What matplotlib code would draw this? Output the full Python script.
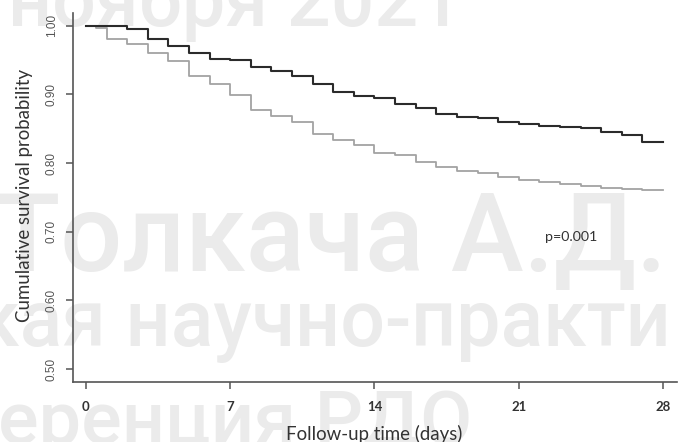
import matplotlib
matplotlib.use("Agg")
import matplotlib.pyplot as plt

# ---- data ----
days_black = [0, 1, 2, 3, 4, 5, 6, 7, 8, 9, 10, 11, 12, 13, 14, 15, 16, 17, 18, 19, 20,
              21, 22, 23, 24, 25, 26, 27, 28]
surv_black = [1.000, 0.999, 0.995, 0.980, 0.970, 0.960, 0.952, 0.950, 0.940, 0.934, 0.927,
              0.915, 0.904, 0.897, 0.894, 0.886, 0.880, 0.872, 0.867, 0.865, 0.860,
              0.857, 0.854, 0.853, 0.851, 0.845, 0.841, 0.831, 0.831]

days_gray = [0, 0.5, 1, 2, 3, 4, 5, 6, 7, 8, 9, 10, 11, 12, 13, 14, 15, 16, 17, 18, 19, 20,
             21, 22, 23, 24, 25, 26, 27, 28]
surv_gray = [1.000, 0.996, 0.980, 0.974, 0.960, 0.948, 0.927, 0.915, 0.899, 0.877, 0.869,
             0.860, 0.842, 0.834, 0.826, 0.815, 0.811, 0.801, 0.794, 0.789, 0.785, 0.779,
             0.775, 0.772, 0.770, 0.767, 0.764, 0.762, 0.761, 0.761]

x_ticks = [0, 7, 14, 21, 28]
y_ticks = [0.50, 0.60, 0.70, 0.80, 0.90, 1.00]
y_ticklabels = ["0.50", "0.60", "0.70", "0.80", "0.90", "1.00"]
p_text = "p=0.001"
x_label = "Follow-up time (days)"
y_label = "Cumulative survival probability"

# watermark lines (background text of the source image)
wm_texts = ["ноября 2021", "Толкача А.Д.", "кая научно-практи", "еренция РДО"]

# layout (pixels): left edge, right edge, baseline
wm_layout = [(8, 463, 26), (-6, 668, 271), (-24, 672, 346), (-2, 472, 444)]

W, H = 678, 442
fig = plt.figure(figsize=(W / 100, H / 100), dpi=100)
fig.patch.set_facecolor("white")
renderer = fig.canvas.get_renderer()

for txt, (x0, x1, yb) in zip(wm_texts, wm_layout):
    t = fig.text(x0 / W, 1 - yb / H, txt, fontsize=50, color="#ebebeb",
                 family="Roboto", fontweight=500, ha="left", va="baseline",
                 zorder=-5)
    w = t.get_window_extent(renderer).width
    t.set_fontsize(50 * (x1 - x0) / w)

ax = fig.add_axes([73 / W, 1 - 382 / H, (677 - 73) / W, (382 - 13) / H])
ax.patch.set_alpha(0)

ax.step(days_gray, surv_gray, where="post", color="#a3a3a3", lw=1.3)
ax.step(days_black, surv_black, where="post", color="#2b2b2b", lw=1.5)

ax.set_xlim(-0.63, 28.68)
ax.set_ylim(0.481, 1.0185)

for s in ["top", "right"]:
    ax.spines[s].set_visible(False)
for s in ["left", "bottom"]:
    ax.spines[s].set_color("#555555")
    ax.spines[s].set_linewidth(1.2)

ax.set_xticks(x_ticks)
ax.set_xticklabels([str(t) for t in x_ticks], family="Lato", fontsize=9.5,
                   color="#333333", fontweight="bold")
ax.set_yticks(y_ticks)
ax.set_yticklabels(y_ticklabels, rotation=90, va="center", family="Liberation Sans",
                   fontsize=8.5, color="#555555")
ax.tick_params(axis="both", direction="out", length=5, width=1.1, color="#555555")
ax.tick_params(axis="x", pad=9)
ax.tick_params(axis="y", pad=6)

ax.text(23.55, 0.692, p_text, ha="center", va="center", family="Lato",
        fontsize=10.3, color="#333333")

fig.text(374 / W, 1 - 434 / H, x_label, ha="center", va="center", family="Lato",
         fontsize=13.4, color="#333333")
fig.text(25 / W, 1 - 195 / H, y_label, ha="center", va="center", rotation=90,
         family="Lato", fontsize=13.4, color="#333333")

fig.savefig("out.png", dpi=100)
